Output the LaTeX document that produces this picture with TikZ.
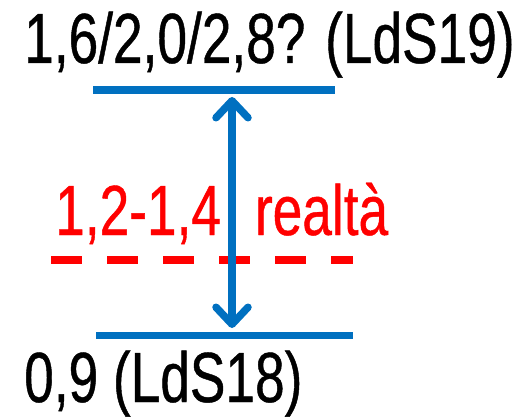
\documentclass[tikz,border=0pt]{standalone}
\usepackage{fontspec}
\setmainfont{Liberation Sans}[FakeStretch=0.75, FakeBold=0.6]
\usepackage{tikz}
\usetikzlibrary{arrows.meta,positioning}
\definecolor{lvlblue}{HTML}{0070C0}
\definecolor{realred}{HTML}{FF0000}
\tikzset{
  lvl/.style  = {draw=lvlblue, line width=7.5pt},
  real/.style = {draw=realred, line width=7.5pt, dash pattern=on 31pt off 25pt},
  span/.style = {{Straight Barb[length=17pt, width=32pt, round]}-{Straight Barb[length=17pt, width=32pt, round]},
                 draw=lvlblue, line width=7.5pt, line cap=round},
  lbl/.style  = {font=\fontsize{71}{71}\selectfont, inner sep=0pt, anchor=base west},
}
\begin{document}
\begin{tikzpicture}[x=1pt, y=-1pt]
\useasboundingbox (0,0) rectangle (527,417);
% levels
\coordinate (hiL) at (93,90);   \coordinate (hiR) at (335,90);
\coordinate (loL) at (96,335.5); \coordinate (loR) at (353,335.5);
\coordinate (reL) at (51,260);  \coordinate (reR) at (353,260);
\coordinate (hi) at (232,97);   \coordinate (lo) at (232,328);
\node[lbl] (top) at (24,63) {1,6/2,0/2,8? (LdS19)};
\node[lbl] (bot) at (24,402) {0,9 (LdS18)};
\node[lbl, text=realred] (mid) at (55,235) {1,2-1,4\hspace{34pt}realtà};
\draw[lvl] (hiL) -- (hiR);
\draw[lvl] (loL) -- (loR);
\draw[real] (reL) -- (reR);
\draw[span] (hi) -- (lo);
\end{tikzpicture}
\end{document}
